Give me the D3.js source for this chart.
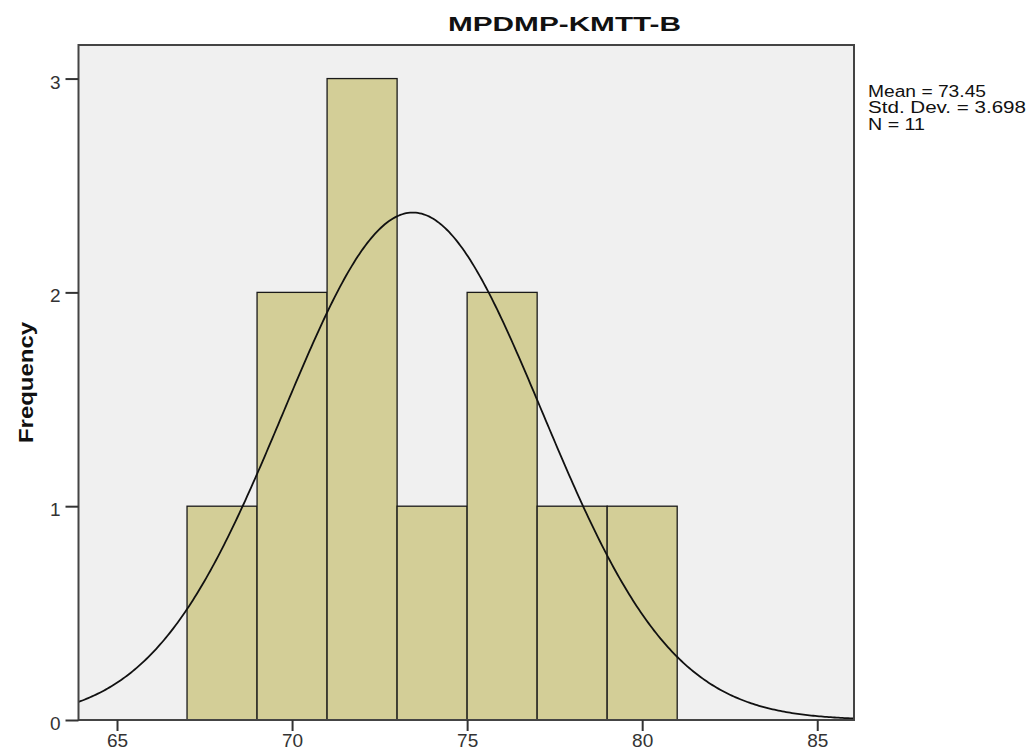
<!DOCTYPE html>
<html><head><meta charset="utf-8">
<script src="https://cdn.jsdelivr.net/npm/d3@7"></script>
<style>body{margin:0;background:#fff}svg{display:block}</style>
</head><body><svg id="c" width="1028" height="754" font-family="Liberation Sans, Arial, sans-serif"></svg>
<script>
const title = "MPDMP-KMTT-B";
const yLabel = "Frequency";
const binStarts = [67, 69, 71, 73, 75, 77, 79];
const binWidth = 2;
const counts = [1, 2, 3, 1, 2, 1, 1];
const xTicks = [65, 70, 75, 80, 85];
const yTicks = [0, 1, 2, 3];
const mean = 73.45, sd = 3.698, n = 11;
const statLines = ["Mean = 73.45", "Std. Dev. = 3.698", "N = 11"];
const statWidths = [118, 158, 57];

const svg = d3.select("#c");
const L = 78.5, R = 854, T = 45, B = 720;
const x = d3.scaleLinear().domain([63.9, 86.05]).range([L, R]);
const y = d3.scaleLinear().domain([0, 3.157]).range([B, T]);

svg.append("rect").attr("x", L).attr("y", T).attr("width", R - L).attr("height", B - T).attr("fill", "#f0f0f0");

svg.selectAll("rect.bar").data(binStarts).enter().append("rect").attr("class", "bar")
  .attr("x", d => x(d)).attr("width", d => x(d + binWidth) - x(d))
  .attr("y", (d, i) => y(counts[i])).attr("height", (d, i) => y(0) - y(counts[i]))
  .attr("fill", "#d3ce97").attr("stroke", "#1a1a1a").attr("stroke-width", 1.3);

const scale = n * binWidth / (sd * Math.sqrt(2 * Math.PI));
const pts = d3.range(0, 401).map(i => {
  const v = x.domain()[0] + (x.domain()[1] - x.domain()[0]) * i / 400;
  return [v, scale * Math.exp(-0.5 * ((v - mean) / sd) ** 2)];
});
svg.append("path").datum(pts).attr("fill", "none").attr("stroke", "#111").attr("stroke-width", 1.8)
  .attr("d", d3.line().x(d => x(d[0])).y(d => y(d[1])));

svg.append("rect").attr("x", L).attr("y", T).attr("width", R - L).attr("height", B - T)
  .attr("fill", "none").attr("stroke", "#444").attr("stroke-width", 2);

const xa = svg.append("g").attr("transform", `translate(0,${B})`)
  .call(d3.axisBottom(x).tickValues(xTicks).tickSize(11).tickPadding(3).tickFormat(d3.format("d")));
xa.select(".domain").remove();
xa.selectAll("line").attr("stroke", "#333").attr("stroke-width", 2);
xa.selectAll("text").attr("font-size", 19).attr("fill", "#333").attr("font-family", "Liberation Sans, Arial, sans-serif");

const ya = svg.append("g").attr("transform", `translate(${L},0)`)
  .call(d3.axisLeft(y).tickValues(yTicks).tickSize(13).tickPadding(5).tickFormat(d3.format("d")));
ya.select(".domain").remove();
ya.selectAll("line").attr("stroke", "#333").attr("stroke-width", 2);
ya.selectAll("text").attr("font-size", 19).attr("fill", "#333").attr("dy", "0.5em").attr("font-family", "Liberation Sans, Arial, sans-serif");

svg.append("text").attr("x", 564.5).attr("y", 31).attr("text-anchor", "middle")
  .attr("font-size", 20.5).attr("font-weight", "bold").attr("fill", "#111")
  .attr("textLength", 233).attr("lengthAdjust", "spacingAndGlyphs").text(title);

svg.append("text").attr("transform", `translate(33,382.5) rotate(-90)`)
  .attr("text-anchor", "middle").attr("font-size", 19.5).attr("font-weight", "bold").attr("fill", "#111")
  .attr("textLength", 121).attr("lengthAdjust", "spacingAndGlyphs").text(yLabel);

svg.selectAll("text.stat").data(statLines).enter().append("text").attr("class", "stat")
  .attr("x", 868).attr("y", (d, i) => 96.5 + i * 16.5).attr("font-size", 16).attr("fill", "#111")
  .attr("textLength", (d, i) => statWidths[i]).attr("lengthAdjust", "spacingAndGlyphs").text(d => d);
</script></body></html>
